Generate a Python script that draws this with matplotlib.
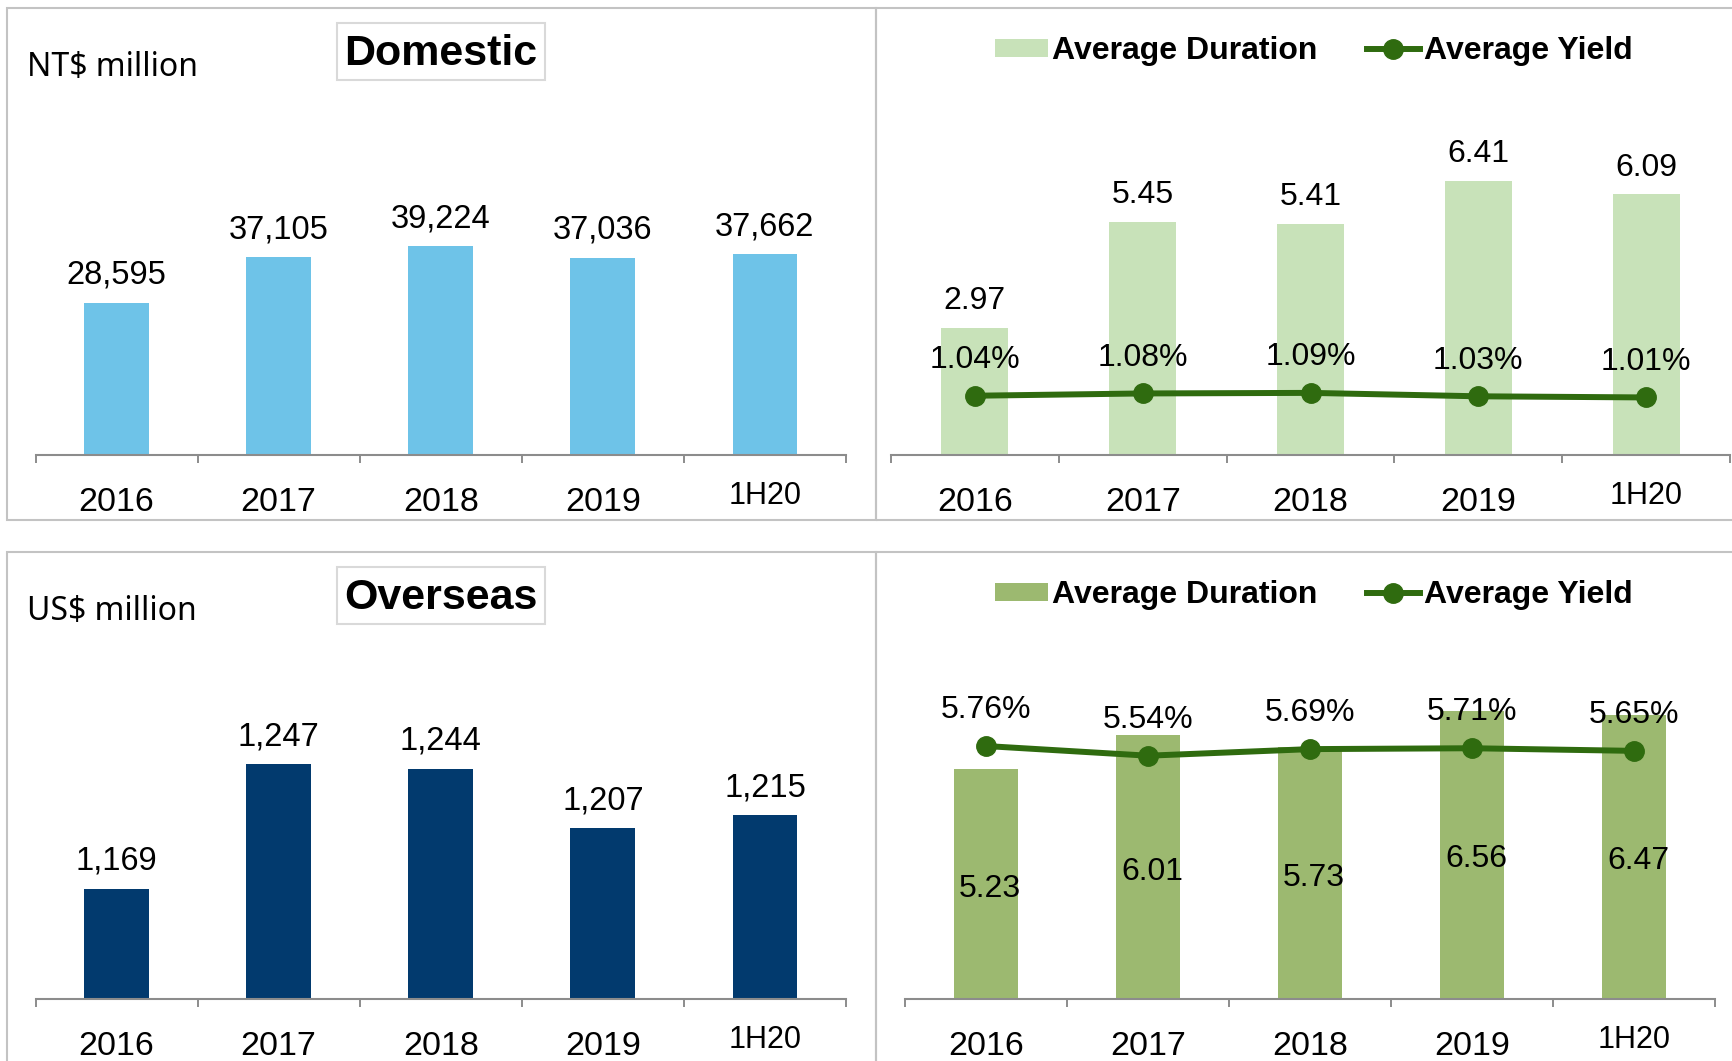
import matplotlib.pyplot as plt
from matplotlib.patches import Rectangle
from matplotlib.transforms import ScaledTranslation

# data
categories = ['2016', '2017', '2018', '2019', '1H20']
dom_amount = [28595, 37105, 39224, 37036, 37662]
dom_duration = [2.97, 5.45, 5.41, 6.41, 6.09]
dom_yield = [1.04, 1.08, 1.09, 1.03, 1.01]
ovs_amount = [1169, 1247, 1244, 1207, 1215]
ovs_duration = [5.23, 6.01, 5.73, 6.56, 6.47]
ovs_yield = [5.76, 5.54, 5.69, 5.71, 5.65]

W, H = 1732, 1061
FONT = 'Liberation Sans'
AXIS_GRAY = '#8c8c8c'
BORDER_GRAY = '#c3c3c3'
LINE_GREEN = '#2f6b0f'

plt.rcParams['font.family'] = [FONT, 'DejaVu Sans']

fig = plt.figure(figsize=(W / 100, H / 100), dpi=100)


def px_rect(x0, y0, x1, y1):
    # pixel box (top-left origin) -> figure fraction [l, b, w, h]
    return [x0 / W, 1 - y1 / H, (x1 - x0) / W, (y1 - y0) / H]


def style_axis(ax, pad):
    x = range(len(categories))
    for s in ['top', 'left', 'right']:
        ax.spines[s].set_visible(False)
    ax.spines['bottom'].set_color(AXIS_GRAY)
    ax.spines['bottom'].set_linewidth(1.5)
    ax.set_yticks([])
    ax.set_xlim(-0.5, len(categories) - 0.5)
    ax.set_xticks(list(x))
    ax.set_xticklabels(categories, fontsize=24.5)
    ax.set_xticks([i - 0.5 for i in range(len(categories) + 1)], minor=True)
    ax.tick_params(axis='x', which='major', length=0, pad=pad)
    ax.tick_params(axis='x', which='minor', length=6, width=1.4, color=AXIS_GRAY)
    # the half-year label sits a bit smaller and higher
    last = ax.get_xticklabels()[-1]
    last.set_fontsize(22)
    last.set_transform(last.get_transform() + ScaledTranslation(0, 4 / 72, fig.dpi_scale_trans))
    ax.patch.set_alpha(0)


def amount_panel(rect, values, ylim, color, unit, title, box):
    ax = fig.add_axes(px_rect(*rect))
    x = range(len(categories))
    ax.bar(x, values, width=0.4, color=color, zorder=2)
    ax.set_ylim(*ylim)
    style_axis(ax, 23)
    for i, v in zip(x, values):
        ax.annotate(f'{v:,}', (i, v), xytext=(0, 13.5), textcoords='offset points',
                    ha='center', va='baseline', fontsize=23.5)
    # unit label and boxed title
    fig.text(27 / W, 1 - (box[1] + 44) / H, unit, fontsize=23, family='Noto Sans',
             ha='left', va='center')
    fig.add_artist(Rectangle((box[0] / W, 1 - (box[1] + 57) / H), 208 / W, 57 / H,
                             transform=fig.transFigure, facecolor='white',
                             edgecolor='#d9d9d9', lw=1.5))
    fig.text((box[0] + 104) / W, 1 - (box[1] + 31) / H, title, fontsize=31,
             fontweight='bold', ha='center', va='center')
    return ax


def combo_panel(rect, duration, yields, ylim_bar, ylim_line, color, inside, legend_y):
    ax = fig.add_axes(px_rect(*rect))
    x = range(len(categories))
    bars = ax.bar(x, duration, width=0.4, color=color, zorder=2, label='Average Duration')
    ax.set_ylim(*ylim_bar)
    style_axis(ax, 23)
    for i, v in zip(x, duration):
        if inside:
            ax.annotate(f'{v:.2f}', (i, v / 2), xytext=(3, -9), textcoords='offset points',
                        ha='center', va='baseline', fontsize=23)
        else:
            ax.annotate(f'{v:.2f}', (i, v), xytext=(0, 13.5), textcoords='offset points',
                        ha='center', va='baseline', fontsize=23)
    ax2 = ax.twinx()
    line, = ax2.plot(list(x), yields, color=LINE_GREEN, lw=4.3, marker='o', ms=14,
                     zorder=3, label='Average Yield')
    ax2.set_ylim(*ylim_line)
    ax2.set_yticks([])
    for s in ax2.spines.values():
        s.set_visible(False)
    for i, v in zip(x, yields):
        ax2.annotate(f'{v:.2f}%', (i, v), xytext=(0, 20), textcoords='offset points',
                     ha='center', va='baseline', fontsize=23)
    fig.legend(handles=[bars, line], loc='center left',
               bbox_to_anchor=(995 / W, 1 - legend_y / H), ncol=2, frameon=False,
               prop={'family': FONT, 'weight': 'bold', 'size': 23},
               handlelength=1.66, handleheight=0.5, handletextpad=0.12,
               columnspacing=1.55, borderpad=0, borderaxespad=0)
    return ax


# top row: domestic
amount_panel((35.5, 108.5, 846, 455), dom_amount, (0, 65000), '#6ec3e8',
             'NT$ million', 'Domestic', (337, 23))
combo_panel((891, 108.5, 1730, 455), dom_duration, dom_yield, (0, 8.1), (0, 6.08),
            '#c8e2b9', False, 51.5)

# bottom row: overseas
amount_panel((35.5, 652.5, 846, 999), ovs_amount, (1100, 1316.6), '#023a6e',
             'US$ million', 'Overseas', (337, 567))
combo_panel((905, 652.5, 1715, 999), ovs_duration, ovs_yield, (0, 7.89), (0, 7.89),
            '#9cb970', True, 595.5)

# panel borders
for x0, y0, x1, y1 in [(6.6, 8, 876, 520), (876, 8, 1745, 520),
                       (6.6, 552, 876, 1075), (876, 552, 1745, 1075)]:
    fig.add_artist(Rectangle((x0 / W, 1 - y1 / H), (x1 - x0) / W, (y1 - y0) / H,
                             transform=fig.transFigure, fill=False,
                             edgecolor=BORDER_GRAY, lw=1.5))

fig.savefig('out.png', dpi=100)
